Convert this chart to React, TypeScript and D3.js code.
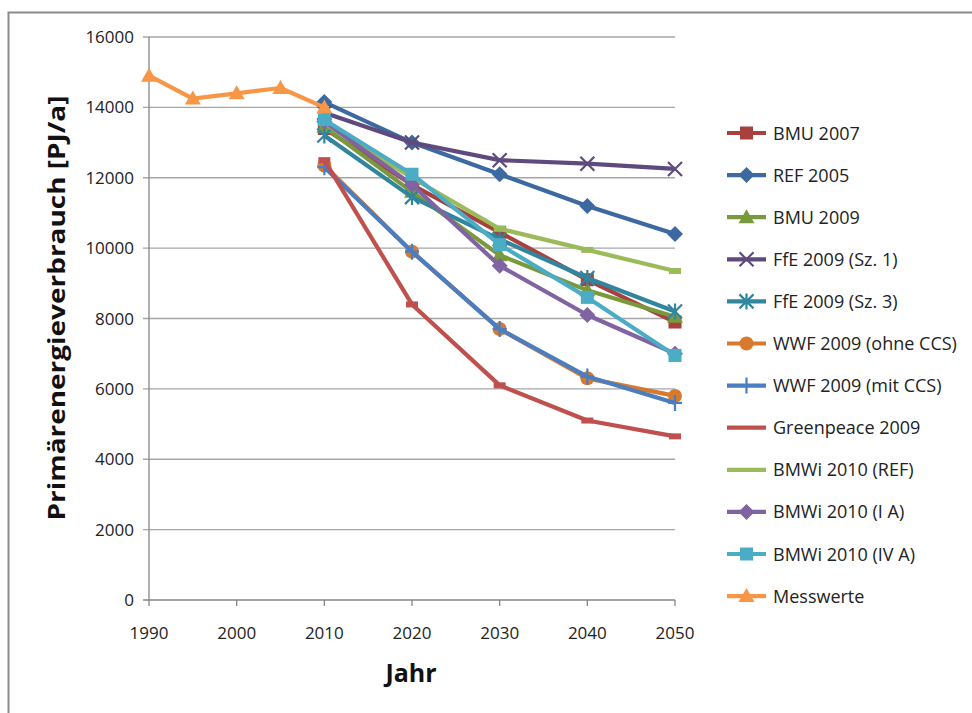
import React from "react";
import * as d3 from "d3";

const years = [2010, 2020, 2030, 2040, 2050];
const messYears = [1990, 1995, 2000, 2005, 2010];

const seriesNames = [
  "BMU 2007",
  "REF 2005",
  "BMU 2009",
  "FfE 2009 (Sz. 1)",
  "FfE 2009 (Sz. 3)",
  "WWF 2009 (ohne CCS)",
  "WWF 2009 (mit CCS)",
  "Greenpeace 2009",
  "BMWi 2010 (REF)",
  "BMWi 2010 (I A)",
  "BMWi 2010 (IV A)",
  "Messwerte",
];

const bmu2007 = [13400, 11800, 10450, 9100, 7900];
const ref2005 = [14150, 13000, 12100, 11200, 10400];
const bmu2009 = [13450, 11600, 9800, 8800, 8050];
const ffe1 = [13850, 13000, 12500, 12400, 12250];
const ffe3 = [13200, 11450, 10250, 9150, 8200];
const wwfOhne = [12350, 9900, 7700, 6300, 5800];
const wwfMit = [12300, 9900, 7700, 6350, 5600];
const greenpeace = [12500, 8400, 6100, 5100, 4650];
const bmwiRef = [13550, 12000, 10550, 9950, 9350];
const bmwiIA = [13600, 11800, 9500, 8100, 7000];
const bmwiIVA = [13650, 12100, 10100, 8600, 6950];
const messwerte = [14900, 14250, 14400, 14550, 14000];

const colors = [
  "#A8403D",
  "#3D69A1",
  "#789A3D",
  "#5F4A7D",
  "#31869E",
  "#D7792F",
  "#4A7EC0",
  "#C0504D",
  "#9BBB59",
  "#8064A2",
  "#4BACC6",
  "#F79646",
];
const markers = [
  "square",
  "diamond",
  "triangle",
  "x",
  "asterisk",
  "circle",
  "plus",
  "dash",
  "dash",
  "diamond",
  "square",
  "triangle",
];

const yTicks = [0, 2000, 4000, 6000, 8000, 10000, 12000, 14000, 16000];
const xTicks = [1990, 2000, 2010, 2020, 2030, 2040, 2050];

const allValues = [bmu2007, ref2005, bmu2009, ffe1, ffe3, wwfOhne, wwfMit, greenpeace, bmwiRef, bmwiIA, bmwiIVA, messwerte];

const FONT = "'Open Sans', 'Noto Sans', sans-serif";

function Marker({ type, x, y, color, legend }: { type: string; x: number; y: number; color: string; legend?: boolean }) {
  switch (type) {
    case "square":
      return <rect x={x - 6.5} y={y - 6.5} width={13} height={13} fill={color} />;
    case "diamond":
      return <path d={`M${x},${y - 8}L${x + 8},${y}L${x},${y + 8}L${x - 8},${y}Z`} fill={color} />;
    case "triangle":
      return <path d={`M${x},${y - 8}L${x + 8},${y + 6}L${x - 8},${y + 6}Z`} fill={color} />;
    case "circle":
      return <circle cx={x} cy={y} r={7} fill={color} />;
    case "x":
      return (
        <path d={`M${x - 7},${y - 7}L${x + 7},${y + 7}M${x - 7},${y + 7}L${x + 7},${y - 7}`} stroke={color} strokeWidth={2.2} fill="none" />
      );
    case "asterisk":
      return (
        <path
          d={`M${x - 7},${y - 7}L${x + 7},${y + 7}M${x - 7},${y + 7}L${x + 7},${y - 7}M${x},${y - 8}L${x},${y + 8}`}
          stroke={color}
          strokeWidth={2.2}
          fill="none"
        />
      );
    case "plus":
      return <path d={`M${x - 7},${y}L${x + 7},${y}M${x},${y - 8}L${x},${y + 8}`} stroke={color} strokeWidth={2.2} fill="none" />;
    case "dash":
      return legend ? null : <rect x={x - 6} y={y - 3} width={12} height={6} fill={color} />;
    default:
      return null;
  }
}

export default function App() {
  const W = 972;
  const H = 713;
  const x = d3.scaleLinear().domain([1990, 2050]).range([149, 675]);
  const y = d3.scaleLinear().domain([0, 16000]).range([600, 37]);
  const line = d3
    .line<[number, number]>()
    .x((d) => x(d[0]))
    .y((d) => y(d[1]));

  const legendY0 = 133;
  const legendStep = 42.1;

  return (
    <svg width={W} height={H} style={{ position: "absolute", left: 0, top: 0, background: "#fff" }}>
      <rect x={0} y={0} width={W} height={H} fill="#fff" />
      <rect x={8.5} y={12.5} width={W + 20} height={H + 20} fill="none" stroke="#8a8a8a" strokeWidth={2} />
      {yTicks.map((t) => (
        <line key={t} x1={143} x2={675} y1={y(t)} y2={y(t)} stroke={t === 0 ? "#868686" : "#a6a6a6"} strokeWidth={1.3} />
      ))}
      <line x1={149} x2={149} y1={37} y2={600} stroke="#868686" strokeWidth={1.3} />
      {xTicks.map((t) => (
        <line key={t} x1={x(t)} x2={x(t)} y1={600} y2={606} stroke="#868686" strokeWidth={1.3} />
      ))}
      {yTicks.map((t) => (
        <text key={t} x={134} y={y(t) + 6} textAnchor="end" fontFamily={FONT} fontSize={17} fill="#222">
          {t}
        </text>
      ))}
      {xTicks.map((t) => (
        <text key={t} x={x(t)} y={639} textAnchor="middle" fontFamily={FONT} fontSize={17} fill="#222">
          {t}
        </text>
      ))}
      <text x={411} y={682} textAnchor="middle" fontFamily={FONT} fontWeight="bold" fontSize={25} fill="#111">
        Jahr
      </text>
      <text
        transform={`translate(65,308) rotate(-90)`}
        textAnchor="middle"
        fontFamily={FONT}
        fontWeight="bold"
        fontSize={24}
        textLength={425}
        lengthAdjust="spacingAndGlyphs"
        fill="#111"
      >
        Primärenergieverbrauch [PJ/a]
      </text>
      {allValues.map((vals, i) => {
        const yrs = i === 11 ? messYears : years;
        const pts = vals.map((v, j) => [yrs[j], v] as [number, number]);
        return (
          <g key={i}>
            <path d={line(pts) || ""} fill="none" stroke={colors[i]} strokeWidth={4.2} strokeLinejoin="round" />
            {pts.map((p, j) => (
              <Marker key={j} type={markers[i]} x={x(p[0])} y={y(p[1])} color={colors[i]} />
            ))}
          </g>
        );
      })}
      {seriesNames.map((name, i) => {
        const ly = legendY0 + i * legendStep;
        return (
          <g key={name}>
            <line x1={727} x2={766} y1={ly} y2={ly} stroke={colors[i]} strokeWidth={4.2} />
            <Marker type={markers[i]} x={746.5} y={ly} color={colors[i]} legend />
            <text x={773} y={ly + 6.5} fontFamily={FONT} fontSize={18} fill="#222">
              {name}
            </text>
          </g>
        );
      })}
    </svg>
  );
}
